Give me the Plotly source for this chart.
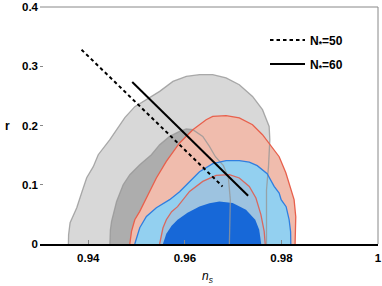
import plotly.graph_objects as go

# ---- data (n_s, r) ----
grey_outer_ns = [0.93588, 0.93592, 0.93623, 0.93761, 0.93864, 0.93967, 0.94103, 0.94206, 0.94447, 0.94757,
                 0.94963, 0.95204, 0.95478, 0.95753, 0.96029, 0.96303, 0.96577, 0.96854, 0.97128, 0.97402,
                 0.97608, 0.97746, 0.97760, 0.97732, 0.97691, 0.97691]
grey_outer_r = [0.0, 0.0157, 0.036, 0.0613, 0.087, 0.1119, 0.1305, 0.1507, 0.176, 0.2132,
                0.2318, 0.2435, 0.2576, 0.2744, 0.2829, 0.2857, 0.2857, 0.2802, 0.2689, 0.2491,
                0.2267, 0.1985, 0.176, 0.1305, 0.0916, 0.0]

grey_inner_ns = [0.94447, 0.94458, 0.94482, 0.94586, 0.94722, 0.9486, 0.95066, 0.95307, 0.95478, 0.95685,
                 0.95891, 0.96029, 0.96165, 0.96371, 0.96509, 0.96633, 0.96798, 0.96901, 0.96942, 0.96932, 0.96922]
grey_inner_r = [0.0, 0.0241, 0.0381, 0.0719, 0.1001, 0.117, 0.1338, 0.1507, 0.1676, 0.1816,
                0.19, 0.1941, 0.1929, 0.1816, 0.1647, 0.1473, 0.1322, 0.1119, 0.0748, 0.0376, 0.0]

red_outer_ns = [0.9486, 0.94895, 0.94963, 0.95066, 0.95237, 0.9541, 0.95616, 0.9572, 0.95891, 0.96165,
                0.96441, 0.96577, 0.96854, 0.97128, 0.97402, 0.97608, 0.97814, 0.97953, 0.98091, 0.982,
                0.98262, 0.98297, 0.98293, 0.98283]
red_outer_r = [0.0, 0.0213, 0.041, 0.055, 0.0832, 0.1114, 0.1394, 0.1507, 0.1705, 0.1929,
               0.2098, 0.2154, 0.2165, 0.2127, 0.2014, 0.1845, 0.162, 0.1473, 0.1203, 0.0916,
               0.0748, 0.0461, 0.0241, 0.0]

blue_outer_ns = [0.94963, 0.95066, 0.95204, 0.9541, 0.95685, 0.95891, 0.96097, 0.96303, 0.96577, 0.96854,
                 0.97128, 0.97334, 0.97499, 0.97705, 0.97849, 0.97953, 0.97994, 0.98097, 0.98159, 0.9819, 0.98194]
blue_outer_r = [0.0, 0.0275, 0.0466, 0.0613, 0.0748, 0.0883, 0.1051, 0.122, 0.1355, 0.1406,
                0.1406, 0.1381, 0.1322, 0.1186, 0.0972, 0.0861, 0.0748, 0.063, 0.041, 0.0208, 0.0]

red_inner_ns = [0.95478, 0.95513, 0.95546, 0.95616, 0.95726, 0.95849, 0.96097, 0.96371, 0.96647, 0.96922,
                0.97128, 0.97334, 0.97472, 0.97575, 0.97643, 0.97664]
red_inner_r = [0.0, 0.0157, 0.027, 0.041, 0.0545, 0.063, 0.0888, 0.1057, 0.1158, 0.117,
               0.1114, 0.0972, 0.0776, 0.0495, 0.0213, 0.0]

blue_inner_ns = [0.95546, 0.95616, 0.95726, 0.95849, 0.96055, 0.96303, 0.96509, 0.96715, 0.9699, 0.97266,
                 0.97458, 0.9754, 0.97581]
blue_inner_r = [0.0, 0.0174, 0.0309, 0.041, 0.0528, 0.0635, 0.0689, 0.0719, 0.0692, 0.0579,
                0.041, 0.0241, 0.0]

n50_ns = [0.9386, 0.9678]
n50_r = [0.328, 0.0972]
n60_ns = [0.9491, 0.9731]
n60_r = [0.2734, 0.0815]

x_ticks = [0.94, 0.96, 0.98, 1.0]
x_labels = ["0.94", "0.96", "0.98", "1"]
y_ticks = [0, 0.1, 0.2, 0.3, 0.4]
y_labels = ["0", "0.1", "0.2", "0.3", "0.4"]
legend_names = ["N<sub>*</sub>=50", "N<sub>*</sub>=60"]

fig = go.Figure()

def fill(xs, ys, color):
    fig.add_trace(go.Scatter(x=xs, y=ys, mode="lines", fill="toself", fillcolor=color,
                             line=dict(width=0), showlegend=False, hoverinfo="skip"))

def outline(xs, ys, color, w=1.3):
    fig.add_trace(go.Scatter(x=xs, y=ys, mode="lines", line=dict(color=color, width=w),
                             showlegend=False, hoverinfo="skip"))

fill(grey_outer_ns, grey_outer_r, "#d8d8d8")
fill(grey_inner_ns, grey_inner_r, "#adadad")
fill(red_outer_ns, red_outer_r, "#f0bcad")
fill(blue_outer_ns, blue_outer_r, "#93d0f0")
fill(red_inner_ns, red_inner_r, "#9dc3e0")
fill(blue_inner_ns, blue_inner_r, "#1768d8")

outline(grey_outer_ns, grey_outer_r, "rgba(150,150,150,0.8)")
outline(grey_inner_ns, grey_inner_r, "rgba(150,150,150,0.8)")
outline(red_outer_ns, red_outer_r, "#e8604c")
outline(red_inner_ns, red_inner_r, "#d9685e")
outline(blue_outer_ns, blue_outer_r, "#2f7fe0")

fig.add_trace(go.Scatter(x=n50_ns, y=n50_r, mode="lines", name=legend_names[0], legendgroup="a",
                         line=dict(color="black", width=2, dash="3.5px,3px"), hoverinfo="skip"))
fig.add_trace(go.Scatter(x=n60_ns, y=n60_r, mode="lines", name=legend_names[1], legendgroup="b",
                         line=dict(color="black", width=2), hoverinfo="skip"))

FONT = "Liberation Sans, Arial, sans-serif"
tick_font = dict(family=FONT, size=11.5, color="black", weight="bold")

fig.update_layout(
    width=382, height=286,
    margin=dict(l=40, r=4, t=7, b=42, autoexpand=False),
    plot_bgcolor="white", paper_bgcolor="white",
    showlegend=True,
    legend=dict(x=0.6657, y=0.922, xanchor="left", yanchor="top", bgcolor="rgba(0,0,0,0)",
                font=dict(family=FONT, size=12, color="black", weight="bold"),
                traceorder="grouped", tracegroupgap=5, itemwidth=35),
    xaxis=dict(range=[0.93, 1.0], tickvals=x_ticks, ticktext=x_labels, ticks="inside", ticklen=4,
               tickcolor="#888", showgrid=False, zeroline=False, showline=True, linecolor="black",
               linewidth=1.5, tickfont=tick_font, automargin=False, ticklabelstandoff=2),
    yaxis=dict(range=[0, 0.4], tickvals=y_ticks, ticktext=y_labels, ticks="inside", ticklen=3,
               tickcolor="#888", showgrid=False, zeroline=False, showline=False, tickfont=tick_font,
               automargin=False, ticklabelstandoff=1),
    shapes=[
        dict(type="line", xref="paper", yref="paper", x0=0, x1=1, y0=1, y1=1,
             line=dict(color="#888", width=1)),
        dict(type="line", xref="paper", yref="paper", x0=1, x1=1, y0=0, y1=1,
             line=dict(color="#888", width=1)),
    ],
    annotations=[
        dict(text="r", xref="paper", yref="paper", x=-0.0976, y=0.498, showarrow=False,
             xanchor="center", yanchor="middle",
             font=dict(family=FONT, size=12, color="black", weight="bold")),
        dict(text="<i>n<sub>s</sub></i>", xref="paper", yref="paper", x=0.497, y=-0.138,
             xanchor="center", yanchor="middle", showarrow=False,
             font=dict(family=FONT, size=12, color="black")),
    ],
)

fig.write_html("out.html", config={"displayModeBar": False},
               post_script="document.body.style.margin='0';document.body.style.overflow='hidden';")
